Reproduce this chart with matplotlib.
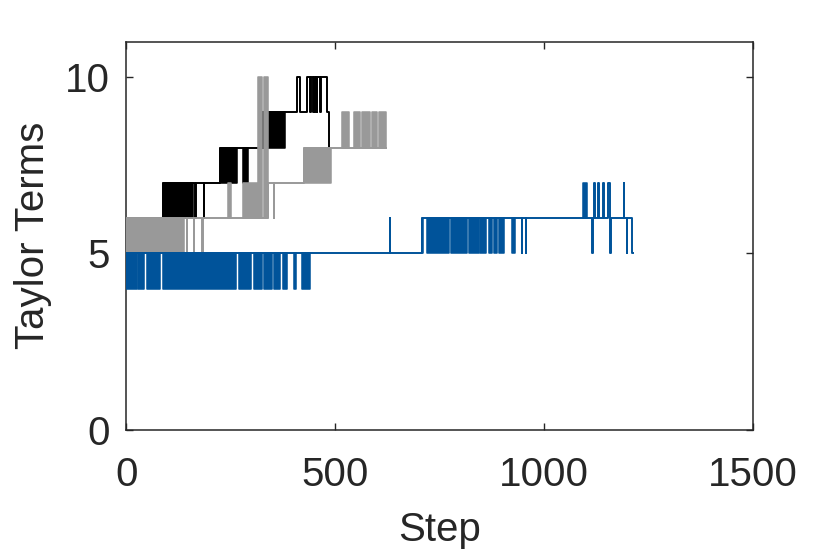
import matplotlib
matplotlib.use("Agg")
import matplotlib.pyplot as plt

plt.rcParams['font.family'] = ['Liberation Sans', 'DejaVu Sans']

# ---- data ----
x_ticks = [0, 500, 1000, 1500]
y_ticks = [0, 5, 10]

# main step paths (value holds from each step until the next)
black_steps = [0, 88, 165, 166, 185, 186, 225, 327, 328, 340, 408, 416, 432, 440, 441,
               447, 449, 452, 454, 456, 457, 464, 465, 480, 484, 486]
black_vals = [6, 7, 6, 7, 6, 7, 8, 9, 8, 9, 10, 9, 10, 9, 10,
              9, 10, 9, 10, 9, 10, 9, 10, 9, 8, 8]

gray_steps = [0, 145, 146, 161, 162, 181, 182, 340, 352, 353, 424, 622]
gray_vals = [6, 5, 6, 5, 6, 5, 6, 7, 6, 7, 8, 8]

blue_steps = [0, 630, 632, 707, 947, 948, 956, 957, 1115, 1116, 1120, 1121, 1130, 1131,
              1142, 1143, 1154, 1158, 1159, 1190, 1191, 1198, 1199, 1211, 1213]
blue_vals = [5, 6, 5, 6, 5, 6, 5, 6, 5, 6, 7, 6, 7, 6,
             7, 6, 7, 5, 6, 7, 6, 5, 6, 5, 5]

# dense switching regions (drawn as filled bands): start, end, low, high
black_band_start = [88, 145, 225, 280, 340]
black_band_end = [144, 160, 265, 292, 380]
black_band_lo = [6, 6, 7, 7, 8]
black_band_hi = [7, 7, 8, 8, 9]

gray_band_start = [0, 242, 280, 316, 329, 424, 516, 544, 564, 588, 604]
gray_band_end = [138, 250, 321, 325, 340, 490, 532, 558, 584, 600, 622]
gray_band_lo = [5, 6, 6, 6, 6, 7, 8, 8, 8, 8, 8]
gray_band_hi = [6, 7, 7, 10, 10, 8, 9, 9, 9, 9, 9]

blue_band_start = [0, 27, 50, 88, 269, 305, 330, 354, 375, 400, 420,
                   707, 719, 777, 819, 847, 867, 879, 891, 923, 1093]
blue_band_end = [24, 41, 80, 261, 297, 325, 349, 367, 384, 407, 440,
                 711, 771, 815, 843, 861, 875, 887, 904, 931, 1102]
blue_band_lo = [4] * 11 + [5] * 9 + [6]
blue_band_hi = [5] * 11 + [6] * 9 + [7]

BLACK = '#000000'
GRAY = '#999999'
BLUE = '#00539A'
AXC = '#262626'
LW = 1.4

fig = plt.figure(figsize=(8.3, 5.54), dpi=100)
ax = fig.add_axes([0.1524, 0.2247, 0.7548, 0.6995])

series = [
    (black_steps, black_vals, black_band_start, black_band_end, black_band_lo, black_band_hi, BLACK, 2),
    (gray_steps, gray_vals, gray_band_start, gray_band_end, gray_band_lo, gray_band_hi, GRAY, 3),
    (blue_steps, blue_vals, blue_band_start, blue_band_end, blue_band_lo, blue_band_hi, BLUE, 4),
]
for st, vals, bs, be, blo, bhi, col, z in series:
    ax.plot(st, vals, drawstyle='steps-post', color=col, lw=LW, zorder=z)
    for s, e, lo, hi in zip(bs, be, blo, bhi):
        ax.fill_between([s, e], [lo, lo], [hi, hi], facecolor=col, edgecolor=col,
                        lw=LW * 0.8, zorder=z)

ax.set_xlim(0, 1500)
ax.set_ylim(0, 11)
ax.set_xticks(x_ticks)
ax.set_yticks(y_ticks)
ax.tick_params(direction='in', top=True, right=True, length=5, width=1,
               colors=AXC, labelsize=29)
ax.tick_params(axis='x', pad=19)
ax.tick_params(axis='y', pad=12)
for sp in ax.spines.values():
    sp.set_color(AXC)
    sp.set_linewidth(1.1)

ax.set_xlabel('Step', fontsize=29, color=AXC, labelpad=12)
ax.set_ylabel('Taylor Terms', fontsize=29, color=AXC, labelpad=9)

fig.savefig('out.png', dpi=100, facecolor='white')
